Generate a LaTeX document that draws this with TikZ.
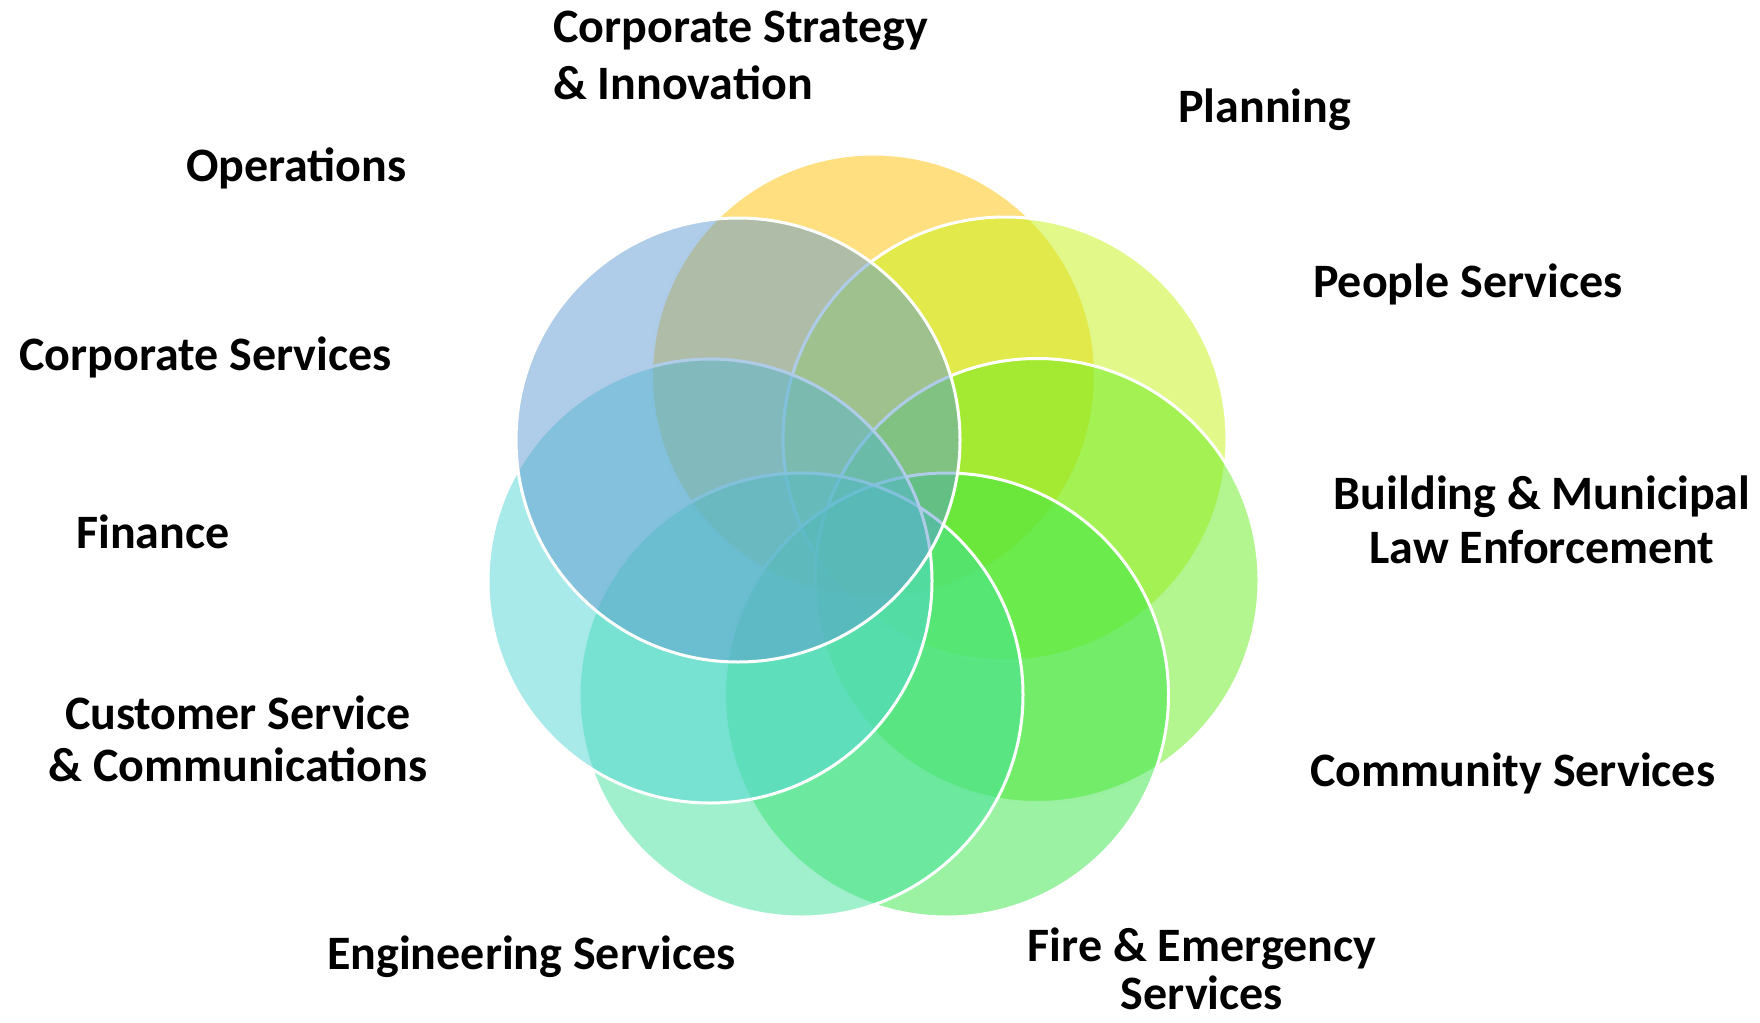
\documentclass[tikz,border=0pt]{standalone}
\usepackage{fontspec}
\setmainfont{Carlito}
\definecolor{cOrange}{HTML}{FFC000}
\definecolor{cLime}{HTML}{C5F315}
\definecolor{cGreenA}{HTML}{67EB1F}
\definecolor{cGreenB}{HTML}{35E545}
\definecolor{cTeal}{HTML}{41E19D}
\definecolor{cCyan}{HTML}{51D5D5}
\definecolor{cBlue}{HTML}{5F99D1}
\begin{document}
\begin{tikzpicture}[x=1pt,y=-1pt,
  ring/.style={circle, minimum size=444pt, inner sep=0pt, outer sep=0pt,
    fill=#1, fill opacity=0.5, draw=white, draw opacity=1, line width=3pt},
  lbl/.style={font=\bfseries\fontsize{48}{53}\selectfont, inner sep=0pt, text=black}]
\useasboundingbox (0,0) rectangle (1760,1022);
% circles, clockwise from top
\node[ring=cOrange] (c1) at (873.5,376) {};
\node[ring=cLime]   (c2) at (1005,439) {};
\node[ring=cGreenA] (c3) at (1037,580.5) {};
\node[ring=cGreenB] (c4) at (946.5,695) {};
\node[ring=cTeal]   (c5) at (801,695) {};
\node[ring=cCyan]   (c6) at (710,581) {};
\node[ring=cBlue]   (c7) at (738,440) {};
% labels
\node[lbl, font=\bfseries\fontsize{48}{58}\selectfont, anchor=base west, align=left] (l1) at (553,100) {Corporate Strategy\\\& Innovation};
\node[lbl, anchor=base west] (l2) at (1178,123) {Planning};
\node[lbl, anchor=base west] (l3) at (186,181) {Operations};
\node[lbl, anchor=base west] (l4) at (1313,297) {People Services};
\node[lbl, anchor=base west] (l5) at (19,370) {Corporate Services};
\node[lbl, font=\bfseries\fontsize{48}{54}\selectfont, anchor=base, align=center] (l6) at (1542,563) {Building \& Municipal\\Law Enforcement};
\node[lbl, anchor=base west] (l7) at (76,548) {Finance};
\node[lbl, font=\bfseries\fontsize{48}{52}\selectfont, anchor=base, align=center] (l8) at (238,781) {Customer Service\\\& Communications};
\node[lbl, anchor=base west] (l9) at (1310,786) {Community Services};
\node[lbl, anchor=base west] (l10) at (327,969) {Engineering Services};
\node[lbl, font=\bfseries\fontsize{48}{48}\selectfont, anchor=base, align=center] (l11) at (1202,1009) {Fire \& Emergency\\Services};
\end{tikzpicture}
\end{document}
